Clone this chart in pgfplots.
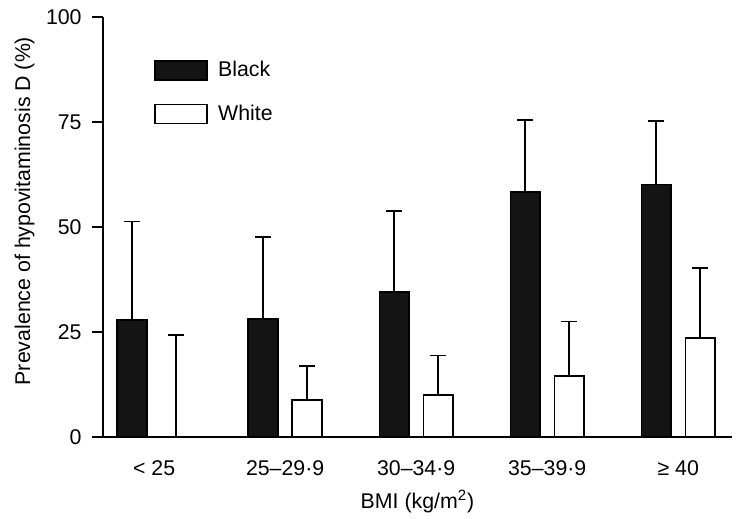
\documentclass[border=0pt]{standalone}
\usepackage{fontspec}
\setmainfont{Liberation Sans}
\usepackage{pgfplots}
\pgfplotsset{compat=1.18}
\newcommand\tickfont{\fontsize{10.7}{12.5}\selectfont}
\newcommand\labfont{\fontsize{10.7}{12.5}\selectfont}
\pgfplotsset{boxlegend/.style={legend image code/.code={\draw[##1] (0bp,-4.75bp) rectangle (26bp,4.75bp);}}}
\pgfplotsset{errs/.style={draw=none, mark=none, forget plot,
  error bars/.cd, y dir=plus, y explicit,
  error bar style={draw=black, line width=0.9bp},
  error mark options={rotate=90, draw=black, line width=0.9bp, mark size=4bp}}}

\begin{document}
\begin{tikzpicture}
\begin{axis}[
  scale only axis, width=314.5bp, height=210bp,
  xmin=-0.39, xmax=4.41, ymin=0, ymax=100,
  axis x line=bottom, axis y line=left,
  axis line style={-, line width=0.9bp, black},
  xtick={0,...,4},
  xticklabels={{\tickfont < 25}, {\tickfont 25–29·9}, {\tickfont 30–34·9}, {\tickfont 35–39·9}, {\tickfont ≥ 40}},
  xtick style={draw=none},
  ytick={0,25,50,75,100},
  yticklabels={{\tickfont 0}, {\tickfont 25}, {\tickfont 50}, {\tickfont 75}, {\tickfont 100}},
  ytick align=outside, major tick length=5.5bp,
  ytick style={line width=0.9bp, black},
  xticklabel style={inner sep=0pt, yshift=-9bp},
  yticklabel style={inner sep=0pt, xshift=-5bp},
  xlabel={BMI (kg/m\textsuperscript{2})},
  ylabel={Prevalence of hypovitaminosis D (\%)},
  xlabel style={font=\labfont, at={(axis description cs:0.5,-0.126)}, anchor=north, inner sep=0pt},
  ylabel style={font=\labfont, at={(axis description cs:-0.108,0.538)}, anchor=south, inner sep=0pt},
  legend style={at={(axis description cs:0.081,0.905)}, anchor=north west,
    draw=none, fill=none, inner sep=0pt, row sep=8.5bp, font=\labfont,
    /tikz/every odd column/.append style={column sep=3bp}},
  legend cell align=left,
  clip=false,
]
\addplot[ybar, bar width=14.75bp, bar shift=-11bp, fill=black!92, draw=black, line width=0.9bp, boxlegend]
  coordinates {(0,27.8) (1,28.0) (2,34.5) (3,58.4) (4,60.1)};
\addlegendentry{Black}
\addplot[ybar, bar width=14.75bp, bar shift=11bp, fill=white, draw=black, line width=0.9bp, boxlegend]
  coordinates {(0,0) (1,8.9) (2,10.0) (3,14.6) (4,23.5)};
\addlegendentry{White}
% upper error bars, placed at the bar centres (bar shift 11bp = 0.168 units)
\addplot[errs] coordinates {(-0.168,27.8) +- (0,23.5) (0.832,28.0) +- (0,19.7) (1.832,34.5) +- (0,19.4) (2.832,58.4) +- (0,17.0) (3.832,60.1) +- (0,15.2)};
\addplot[errs] coordinates {(0.168,0) +- (0,24.3) (1.168,8.9) +- (0,8.0) (2.168,10.0) +- (0,9.4) (3.168,14.6) +- (0,12.9) (4.168,23.5) +- (0,16.8)};
\end{axis}
\pgfresetboundingbox
\path (-51.5bp,-41bp) rectangle (319bp,218.5bp);
\end{tikzpicture}
\end{document}
